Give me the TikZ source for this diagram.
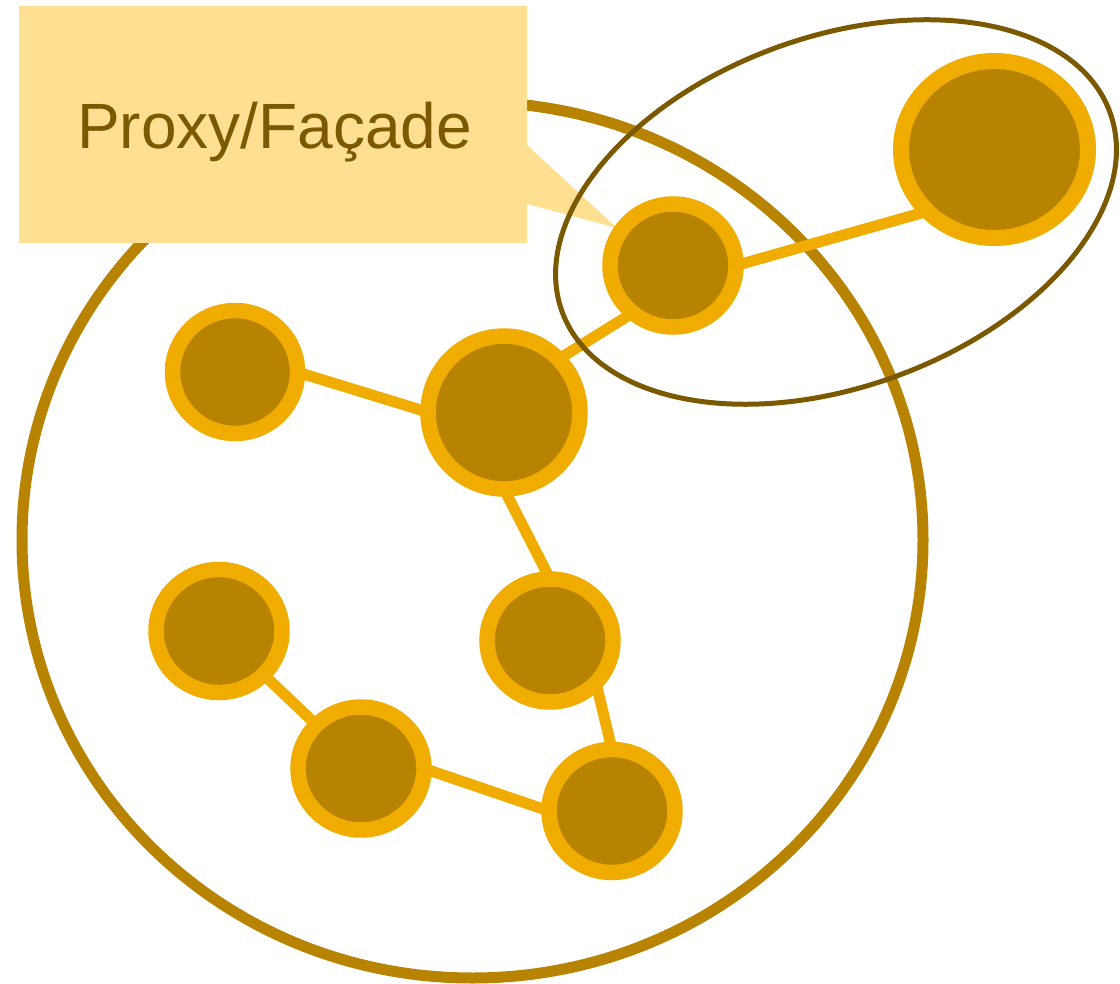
\documentclass[tikz,border=0pt]{standalone}
\usepackage{fontspec}
\setmainfont{Liberation Sans}
\definecolor{nodefill}{HTML}{B78300}
\definecolor{ringcol}{HTML}{F0AC00}
\definecolor{bigcol}{HTML}{B78300}
\definecolor{ellcol}{HTML}{7B5900}
\definecolor{callfill}{HTML}{FFDF92}
\definecolor{txtcol}{HTML}{7B5900}
\tikzset{
  netnode/.style={draw=ringcol, fill=nodefill, line width=11.6pt},
  netedge/.style={draw=ringcol, line width=8.25pt},
  bigring/.style={draw=bigcol, line width=8.25pt},
  proxyring/.style={draw=ellcol, line width=3.75pt},
  callout/.style={fill=callfill, draw=none},
}
\begin{document}
\begin{tikzpicture}[x=0.75pt, y=-0.75pt]
\useasboundingbox (0,0) rectangle (1120,984);
% big circle
\draw[bigring] (472.5,540) ellipse [x radius=450.5, y radius=438];
% callout
\fill[callout] (19,6) -- (527,6) -- (527,145) -- (617,228) -- (527,204) -- (527,243) -- (19,243) -- cycle;
\node[anchor=base, text=txtcol, font=\fontsize{48pt}{56pt}\selectfont, inner sep=0pt] (label) at (274.5,149) {Proxy/Façade};
% node centres
\coordinate (n1) at (235,372);
\coordinate (n2) at (504,412.5);
\coordinate (n3) at (673,265.5);
\coordinate (n4) at (994.5,149.5);
\coordinate (n5) at (219,631);
\coordinate (n6) at (550,640.5);
\coordinate (n7) at (361,768.5);
\coordinate (n8) at (612,811);
% edge attachment points
\coordinate (a12) at (297,372);
\coordinate (b12) at (429,412.5);
\coordinate (a23) at (562,357);
\coordinate (b23) at (631,314);
\coordinate (a34) at (736,265.5);
\coordinate (b34) at (925,212);
\coordinate (a26) at (504,489);
\coordinate (b26) at (550,579);
\coordinate (a68) at (596,683);
\coordinate (b68) at (612,749.5);
\coordinate (a57) at (263.5,674.5);
\coordinate (b57) at (316.5,725);
\coordinate (a78) at (424,768.5);
\coordinate (b78) at (549,811);
% edges
\draw[netedge] (a12) -- (b12);
\draw[netedge] (a23) -- (b23);
\draw[netedge] (a34) -- (b34);
\draw[netedge] (a26) -- (b26);
\draw[netedge] (a68) -- (b68);
\draw[netedge] (a57) -- (b57);
\draw[netedge] (a78) -- (b78);
% nodes
\draw[netnode] (n1) ellipse [x radius=62.5, y radius=61.5];
\draw[netnode] (n2) ellipse [x radius=76, y radius=76.5];
\draw[netnode] (n3) ellipse [x radius=63, y radius=61.5];
\draw[netnode, line width=12pt] (n4) ellipse [x radius=93.5, y radius=88.5];
\draw[netnode] (n5) ellipse [x radius=63, y radius=61.5];
\draw[netnode] (n6) ellipse [x radius=63, y radius=61.5];
\draw[netnode] (n7) ellipse [x radius=63, y radius=61.5];
\draw[netnode] (n8) ellipse [x radius=63, y radius=61.5];
% proxy ellipse
\coordinate (pc) at (836,212);
\draw[proxyring, rotate around={20:(pc)}] (pc) ellipse [x radius=291.5, y radius=174.9];
\end{tikzpicture}
\end{document}
